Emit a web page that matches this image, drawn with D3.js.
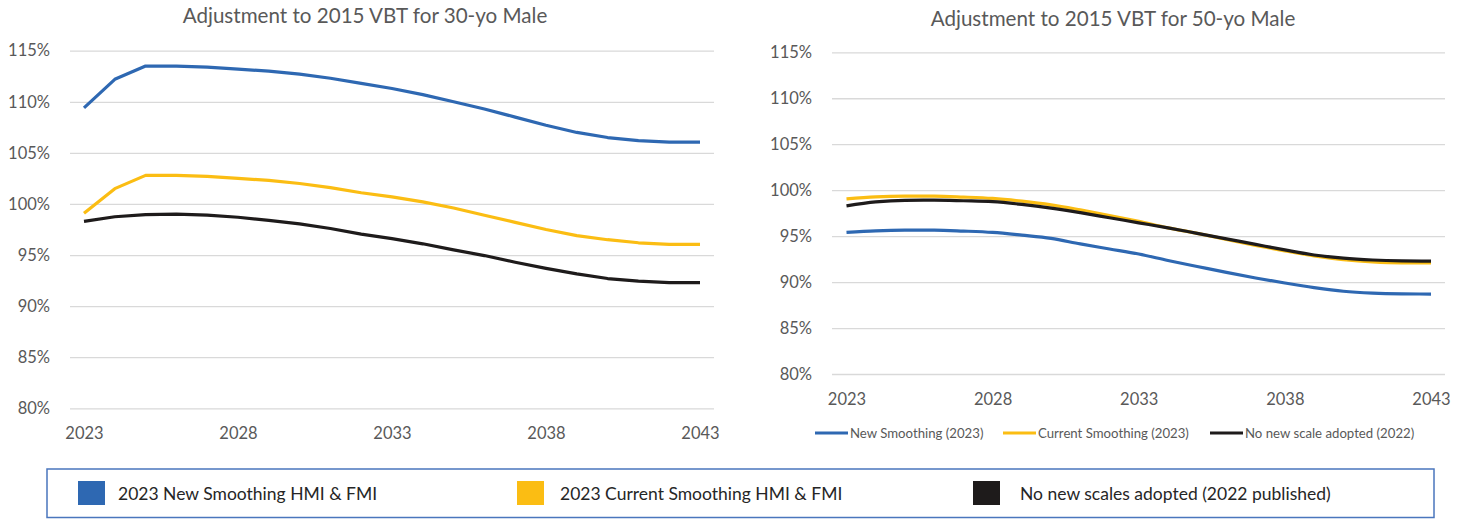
<!DOCTYPE html>
<html lang="en">
    <head>
        <meta charset="utf-8">
        <title>Adjustment to 2015 VBT</title>
        <script src="https://d3js.org/d3.v7.min.js"></script>
        <style type="text/css">
            body { margin: 0; background: #fff; }
            text { font-family: Lato, "Open Sans", sans-serif; }
        </style>
    </head>
    <body>
        <script>
            // data
            var years = [2023, 2024, 2025, 2026, 2027, 2028, 2029, 2030, 2031, 2032, 2033,
                         2034, 2035, 2036, 2037, 2038, 2039, 2040, 2041, 2042, 2043];

            // 30-yo male
            var newSmooth30 = [109.4, 112.2, 113.5, 113.5, 113.4, 113.2, 113.0, 112.7, 112.3, 111.8, 111.3,
                               110.7, 110.0, 109.3, 108.5, 107.7, 107.0, 106.5, 106.2, 106.05, 106.05];
            var curSmooth30 = [99.1, 101.5, 102.8, 102.8, 102.7, 102.5, 102.3, 102.0, 101.6, 101.1, 100.7,
                               100.2, 99.6, 98.9, 98.2, 97.5, 96.9, 96.5, 96.2, 96.05, 96.05];
            var noScale30 = [98.3, 98.75, 98.95, 99.0, 98.9, 98.7, 98.4, 98.05, 97.6, 97.05, 96.6,
                             96.1, 95.5, 94.95, 94.3, 93.7, 93.15, 92.7, 92.45, 92.3, 92.3];

            // 50-yo male
            var newSmooth50 = [95.4, 95.58, 95.65, 95.65, 95.55, 95.4, 95.1, 94.75, 94.15, 93.6, 93.05,
                               92.35, 91.7, 91.05, 90.45, 89.9, 89.4, 89.0, 88.8, 88.72, 88.7];
            var curSmooth50 = [99.05, 99.28, 99.35, 99.35, 99.25, 99.1, 98.8, 98.4, 97.85, 97.25, 96.6,
                               95.9, 95.3, 94.65, 94.0, 93.4, 92.85, 92.45, 92.2, 92.1, 92.1];
            var noScale50 = [98.3, 98.72, 98.9, 98.92, 98.85, 98.75, 98.45, 98.05, 97.55, 97.0, 96.45,
                             95.9, 95.3, 94.7, 94.1, 93.5, 92.95, 92.6, 92.4, 92.3, 92.27];

            var yTicks = [80, 85, 90, 95, 100, 105, 110, 115];
            var xTicks = [2023, 2028, 2033, 2038, 2043];

            var seriesNames = ["New Smoothing (2023)", "Current Smoothing (2023)", "No new scale adopted (2022)"];
            var legendNames = ["2023 New Smoothing HMI & FMI", "2023 Current Smoothing HMI & FMI", "No new scales adopted (2022 published)"];
            var colors = ["#2e68b2", "#fbbd13", "#1e1b1b"];

            var gridColor = "#d9d9d9";
            var textColor = "#595959";

            var svg = d3.select("body")
                        .append("svg")
                        .attr("width", 1466)
                        .attr("height", 519);

            function drawChart(cfg) {
                var g = svg.append("g");

                var xScale = d3.scaleLinear().domain([2023, 2043]).range([cfg.x0, cfg.x1]);
                var yScale = d3.scaleLinear().domain([80, 115]).range([cfg.yBottom, cfg.yTop]);

                // title
                g.append("text")
                    .attr("x", cfg.titleX)
                    .attr("y", cfg.titleY)
                    .attr("text-anchor", "middle")
                    .attr("dominant-baseline", "central")
                    .attr("font-size", 20.6)
                    .attr("fill", textColor)
                    .text(cfg.title);

                // y axis + gridlines
                var yAxis = g.append("g")
                    .attr("transform", "translate(" + cfg.gridX0 + ",0)")
                    .call(d3.axisLeft(yScale)
                        .tickValues(yTicks)
                        .tickSize(-(cfg.gridX1 - cfg.gridX0))
                        .tickPadding(20)
                        .tickFormat(function (d) { return d + "%"; }));
                yAxis.select(".domain").remove();
                yAxis.selectAll(".tick line").attr("stroke", gridColor).attr("stroke-width", 1.3);
                yAxis.selectAll(".tick text").attr("fill", textColor).attr("font-size", 16.5)
                    .attr("font-family", "Lato, sans-serif");

                // x axis
                var xAxis = g.append("g")
                    .attr("transform", "translate(0," + cfg.yBottom + ")")
                    .call(d3.axisBottom(xScale)
                        .tickValues(xTicks)
                        .tickSize(0)
                        .tickPadding(19)
                        .tickFormat(d3.format("d")));
                xAxis.select(".domain").remove();
                xAxis.selectAll(".tick text").attr("fill", textColor).attr("font-size", 16.5)
                    .attr("font-family", "Lato, sans-serif");

                var line = d3.line()
                    .x(function (d, i) { return xScale(years[i]); })
                    .y(function (d) { return yScale(d); })
                    .curve(cfg.curve);

                cfg.series.forEach(function (s, i) {
                    g.append("path")
                        .datum(s)
                        .attr("fill", "none")
                        .attr("stroke", colors[i])
                        .attr("stroke-width", 3.2)
                        .attr("stroke-linejoin", "round")
                        .attr("d", line);
                });
                return g;
            }

            drawChart({
                title: "Adjustment to 2015 VBT for 30-yo Male",
                titleX: 365, titleY: 15,
                x0: 84, x1: 700,
                gridX0: 70, gridX1: 714,
                yTop: 50.7, yBottom: 408.3,
                curve: d3.curveLinear,
                series: [newSmooth30, curSmooth30, noScale30]
            });

            var right = drawChart({
                title: "Adjustment to 2015 VBT for 50-yo Male",
                titleX: 1113, titleY: 18,
                x0: 846.5, x1: 1431,
                gridX0: 832, gridX1: 1445,
                yTop: 52.3, yBottom: 374,
                curve: d3.curveMonotoneX,
                series: [newSmooth50, curSmooth50, noScale50]
            });

            // small legend under the right chart
            var smallLegendX = [815, 1003, 1210];
            seriesNames.forEach(function (name, i) {
                var lg = right.append("g").attr("transform", "translate(" + smallLegendX[i] + ",433)");
                lg.append("line")
                    .attr("x1", 0).attr("x2", 33)
                    .attr("stroke", colors[i]).attr("stroke-width", 3.2);
                lg.append("text")
                    .attr("x", 35)
                    .attr("dominant-baseline", "central")
                    .attr("font-size", 13.2)
                    .attr("fill", textColor)
                    .text(name);
            });

            // bottom legend box
            var box = svg.append("g");
            box.append("rect")
                .attr("x", 47).attr("y", 469)
                .attr("width", 1387).attr("height", 48.5)
                .attr("fill", "#fff")
                .attr("stroke", "#4a76bd")
                .attr("stroke-width", 1.5);

            var bigLegendX = [78, 517, 973];
            var bigTextX = [118, 560, 1020];
            legendNames.forEach(function (name, i) {
                box.append("rect")
                    .attr("x", bigLegendX[i]).attr("y", 481)
                    .attr("width", 27).attr("height", 24)
                    .attr("fill", colors[i]);
                box.append("text")
                    .attr("x", bigTextX[i]).attr("y", 493)
                    .attr("dominant-baseline", "central")
                    .attr("font-size", 17.5)
                    .attr("fill", "#262626")
                    .text(name);
            });
        </script>
    </body>
</html>
